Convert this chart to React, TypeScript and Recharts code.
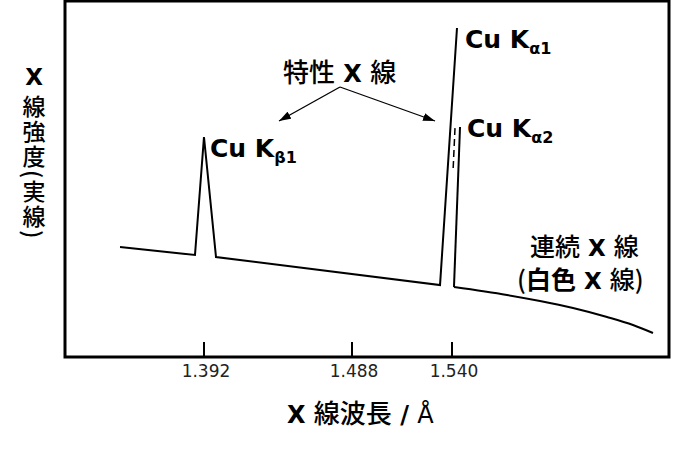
import React from "react";
import { LineChart, Line, XAxis, YAxis, ReferenceArea } from "recharts";

// x: position along the (schematic, non-linear) wavelength axis, 0-100
// y: relative intensity, 0-100
const mainTrace = [
  { x: 9.11, y: 30.9 },
  { x: 21.52, y: 28.65 },
  { x: 23.01, y: 61.8 },
  { x: 25.0, y: 28.09 },
  { x: 62.09, y: 20.22 },
  { x: 64.9, y: 92.42 },
];

const ka2Side = [
  { x: 65.4, y: 64.6 },
  { x: 64.4, y: 19.66 },
];

const ka2Hidden = [
  { x: 64.57, y: 64.3 },
  { x: 64.24, y: 52.0 },
];

const continuum = [
  { x: 64.4, y: 19.66 },
  { x: 73.18, y: 17.42 },
  { x: 78.64, y: 15.73 },
  { x: 84.11, y: 13.76 },
  { x: 89.74, y: 11.24 },
  { x: 94.04, y: 8.99 },
  { x: 97.35, y: 6.74 },
];

const tickPositions = [23.01, 47.52, 64.07];
const tickLabels = ["1.392", "1.488", "1.540"];

const LATIN = "'DejaVu Sans', Verdana, sans-serif";
const CJK = "'Noto Sans CJK JP', 'Noto Sans CJK SC', sans-serif";

const renderTick = (props: any) => {
  const { x, y, payload, index } = props;
  let i = tickPositions.indexOf(payload.value);
  if (i < 0) i = index;
  return (
    <g key={`t-${i}`}>
      <line x1={x} x2={x} y1={y - 15} y2={y} stroke="#000" strokeWidth={2} />
      <text x={x + 2} y={y + 20} textAnchor="middle" fontFamily={LATIN} fontSize={17} fill="#222">
        {tickLabels[i]}
      </text>
    </g>
  );
};

function Annotations() {
  return (
    <svg
      width={680}
      height={449}
      style={{ position: "absolute", left: 0, top: 0, pointerEvents: "none" }}
    >
      <defs>
        <marker id="ah" markerWidth="12" markerHeight="8" refX="12" refY="4" orient="auto" markerUnits="userSpaceOnUse">
          <path d="M0,0 L12,4 L0,8 Z" fill="#000" />
        </marker>
      </defs>

      {/* y axis title: X on top, the rest written vertically */}
      <text x={34} y={77} textAnchor="middle" dominantBaseline="central" fontFamily={LATIN} fontWeight={700} fontSize={23}>
        X
      </text>
      <text
        x={34}
        y={95}
        fontFamily={CJK}
        fontWeight={500}
        fontSize={23}
        letterSpacing={2}
        style={{ writingMode: "vertical-rl" }}
      >
        線強度(実線)
      </text>

      {/* characteristic x-ray label with arrows */}
      <text x={283} y={82} fontSize={26} fontFamily={CJK} fontWeight={500}>
        特性
        <tspan fontFamily={LATIN} fontWeight={700} fontSize={24}> X </tspan>
        線
      </text>
      <line x1={340} y1={87} x2={279} y2={121} stroke="#000" strokeWidth={1.3} markerEnd="url(#ah)" />
      <line x1={340} y1={87} x2={435} y2={121} stroke="#000" strokeWidth={1.3} markerEnd="url(#ah)" />

      {/* peak labels */}
      <text x={210} y={157} fontFamily={LATIN} fontWeight={700} fontSize={25}>
        Cu K<tspan fontSize={16} dy={6}>β1</tspan>
      </text>
      <text x={465} y={48} fontFamily={LATIN} fontWeight={700} fontSize={25}>
        Cu K<tspan fontSize={16} dy={6}>α1</tspan>
      </text>
      <text x={467} y={137} fontFamily={LATIN} fontWeight={700} fontSize={25}>
        Cu K<tspan fontSize={16} dy={6}>α2</tspan>
      </text>

      {/* continuum label */}
      <text x={530} y={256} fontSize={25} fontFamily={CJK} fontWeight={500}>
        連続
        <tspan fontFamily={LATIN} fontWeight={700} fontSize={23}> X </tspan>
        線
      </text>
      <text x={517} y={289} fontSize={25} fontFamily={CJK} fontWeight={500}>
        (<tspan fontWeight={700}>白色</tspan>
        <tspan fontFamily={LATIN} fontWeight={700} fontSize={23}> X </tspan>
        線)
      </text>

      {/* x axis title */}
      <text x={287} y={423} fontSize={26} fontFamily={CJK} fontWeight={500}>
        <tspan fontFamily={LATIN} fontWeight={700} fontSize={24}>X </tspan>
        線波長
        <tspan fontFamily={LATIN} fontWeight={700} fontSize={24}> / </tspan>
        <tspan fontFamily={LATIN} fontSize={24}>Å</tspan>
      </text>
    </svg>
  );
}

export default function App() {
  return (
    <div style={{ position: "absolute", left: 0, top: 0, width: 680, height: 449, background: "#fff" }}>
      <LineChart width={680} height={449} margin={{ top: 1, right: 11, bottom: 62, left: 65 }}>
        <XAxis
          type="number"
          dataKey="x"
          domain={[0, 100]}
          ticks={tickPositions}
          interval={0}
          height={30}
          tickSize={0}
          tickMargin={0}
          tickLine={false}
          axisLine={false}
          tick={renderTick}
        />
        <YAxis type="number" domain={[0, 100]} width={0} tick={false} axisLine={false} />
        <ReferenceArea x1={0} x2={100} y1={0} y2={100} fill="none" stroke="#000" strokeWidth={3} />
        <Line data={mainTrace} dataKey="y" type="linear" stroke="#000" strokeWidth={2} dot={false} isAnimationActive={false} />
        <Line data={ka2Side} dataKey="y" type="linear" stroke="#000" strokeWidth={2} dot={false} isAnimationActive={false} />
        <Line data={ka2Hidden} dataKey="y" type="linear" stroke="#000" strokeWidth={1.5} strokeDasharray="7 4" dot={false} isAnimationActive={false} />
        <Line data={continuum} dataKey="y" type="monotone" stroke="#000" strokeWidth={2} dot={false} isAnimationActive={false} />
      </LineChart>
      <Annotations />
    </div>
  );
}
